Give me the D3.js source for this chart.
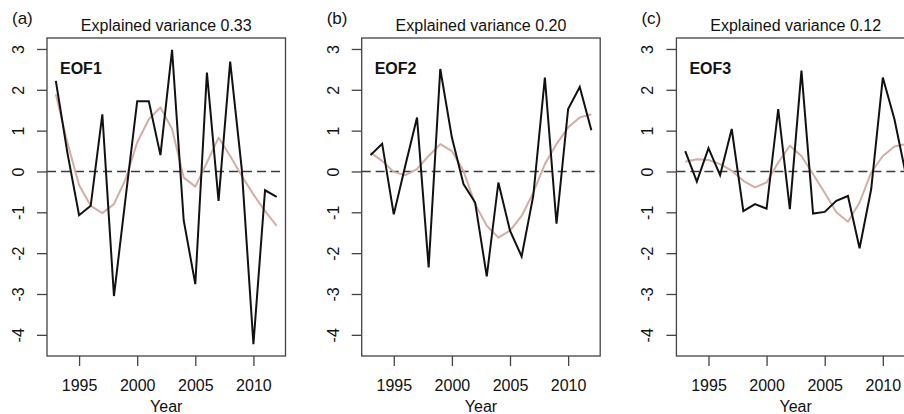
<!DOCTYPE html>
<html>
<head>
<meta charset="utf-8">
<script src="https://cdn.jsdelivr.net/npm/d3@7"></script>
<style>
  html, body { margin: 0; padding: 0; background: #fff; }
  svg { display: block; }
  text { font-family: "Liberation Sans", Arial, Helvetica, sans-serif; fill: #111; }
</style>
</head>
<body>
<svg id="chart" width="904" height="414"></svg>
<script>
// Annual EOF principal-component time series (1993-2012) with smoothed curves
const years = d3.range(1993, 2013);

const eof1 = [2.22, 0.45, -1.07, -0.84, 1.40, -3.05, -0.65, 1.72, 1.72, 0.40,
              2.98, -1.19, -2.76, 2.42, -0.72, 2.69, 0.05, -4.23, -0.46, -0.62];
const eof1Smooth = [1.89, 0.70, -0.33, -0.84, -1.02, -0.80, -0.19, 0.71, 1.28, 1.57,
                    1.04, -0.15, -0.37, 0.22, 0.83, 0.38, -0.11, -0.56, -0.97, -1.33];

const eof2 = [0.40, 0.68, -1.05, 0.15, 1.32, -2.35, 2.51, 0.83, -0.31, -0.76,
              -2.57, -0.27, -1.45, -2.08, -0.60, 2.30, -1.28, 1.53, 2.07, 1.01];
const eof2Smooth = [0.46, 0.26, -0.01, -0.09, 0.06, 0.38, 0.67, 0.50, 0.01, -0.80,
                    -1.33, -1.62, -1.45, -1.09, -0.52, 0.18, 0.67, 1.08, 1.32, 1.40];

const eof3 = [0.50, -0.25, 0.57, -0.09, 1.04, -0.97, -0.80, -0.91, 1.53, -0.92,
              2.47, -1.03, -0.99, -0.72, -0.60, -1.88, -0.43, 2.30, 1.28, -0.10];
const eof3Smooth = [0.24, 0.30, 0.28, 0.18, 0.02, -0.23, -0.39, -0.27, 0.22, 0.63,
                    0.38, -0.07, -0.52, -1.00, -1.23, -0.76, -0.02, 0.38, 0.61, 0.67];

const panelLetters = ["(a)", "(b)", "(c)"];
const eofNames = ["EOF1", "EOF2", "EOF3"];
const explained = ["0.33", "0.20", "0.12"];
const seriesRaw = [eof1, eof2, eof3];
const seriesSmooth = [eof1Smooth, eof2Smooth, eof3Smooth];

const yTicks = [-4, -3, -2, -1, 0, 1, 2, 3];
const xTicks = [1995, 2000, 2005, 2010];

// Plot geometry (shared by the three panels)
const panelStep = 314.7;
const box = { left: 47, right: 285.5, top: 38, bottom: 356 };
const fontStack = "'Liberation Sans', Arial, Helvetica, sans-serif";

// Axis limits padded by 4% on each side of the data range
const yMin = d3.min(eof1), yMax = d3.max(eof1);
const yPad = (yMax - yMin) * 0.04;
const xPad = (years[years.length - 1] - years[0]) * 0.04;

const x = d3.scaleLinear()
  .domain([years[0] - xPad, years[years.length - 1] + xPad])
  .range([box.left, box.right]);
const y = d3.scaleLinear()
  .domain([yMin - yPad, yMax + yPad])
  .range([box.bottom, box.top]);

const svg = d3.select("#chart");
svg.append("rect").attr("width", 904).attr("height", 414).attr("fill", "#fff");

svg.append("defs").append("clipPath").attr("id", "plotClip")
  .append("rect")
  .attr("x", box.left).attr("y", box.top)
  .attr("width", box.right - box.left).attr("height", box.bottom - box.top);

const line = d3.line().x((d, i) => x(years[i])).y(d => y(d));
const plainNumber = d => String(d); // hyphen-minus, as in the printed axis

panelLetters.forEach((letter, p) => {
  const g = svg.append("g").attr("transform", `translate(${p * panelStep},0)`);
  const plot = g.append("g").attr("clip-path", "url(#plotClip)");

  // zero reference line
  plot.append("line")
    .attr("x1", box.left).attr("x2", box.right)
    .attr("y1", y(0)).attr("y2", y(0))
    .attr("stroke", "#3a3a3a").attr("stroke-width", 1.4)
    .attr("stroke-dasharray", "9,5");

  // smoothed curve
  plot.append("path")
    .datum(seriesSmooth[p])
    .attr("d", line)
    .attr("fill", "none")
    .attr("stroke", "#d3aea6")
    .attr("stroke-width", 2)
    .attr("stroke-linejoin", "round");

  // annual values
  plot.append("path")
    .datum(seriesRaw[p])
    .attr("d", line)
    .attr("fill", "none")
    .attr("stroke", "#111")
    .attr("stroke-width", 2);

  // frame
  g.append("rect")
    .attr("x", box.left).attr("y", box.top)
    .attr("width", box.right - box.left).attr("height", box.bottom - box.top)
    .attr("fill", "none").attr("stroke", "#444").attr("stroke-width", 1.3);

  // x axis
  const xAxis = g.append("g")
    .attr("transform", `translate(0,${box.bottom})`)
    .call(d3.axisBottom(x).tickValues(xTicks).tickFormat(plainNumber)
      .tickSize(10).tickPadding(14));
  xAxis.select(".domain").remove();
  xAxis.selectAll(".tick line").attr("stroke", "#444").attr("stroke-width", 1.3);
  xAxis.selectAll(".tick text")
    .style("font-size", "16px").style("font-family", fontStack).style("fill", "#111");

  // y axis with labels parallel to the axis
  const yAxis = g.append("g")
    .attr("transform", `translate(${box.left},0)`)
    .call(d3.axisLeft(y).tickValues(yTicks).tickFormat(plainNumber).tickSize(10));
  yAxis.select(".domain").remove();
  yAxis.selectAll(".tick line").attr("stroke", "#444").attr("stroke-width", 1.3);
  yAxis.selectAll(".tick text")
    .style("font-size", "16px").style("font-family", fontStack).style("fill", "#111")
    .attr("x", null).attr("dy", null)
    .attr("text-anchor", "middle")
    .attr("transform", "translate(-23,0) rotate(-90)");

  // titles and labels
  g.append("text")
    .attr("x", (box.left + box.right) / 2).attr("y", 31)
    .attr("text-anchor", "middle").style("font-size", "16px")
    .text(`Explained variance ${explained[p]}`);

  g.append("text")
    .attr("x", 12).attr("y", 24)
    .style("font-size", "17px")
    .text(letter);

  g.append("text")
    .attr("x", 60).attr("y", 74)
    .style("font-size", "16px").style("font-weight", "bold")
    .text(eofNames[p]);

  g.append("text")
    .attr("x", (box.left + box.right) / 2).attr("y", 412)
    .attr("text-anchor", "middle").style("font-size", "16px")
    .text("Year");
});
</script>
</body>
</html>
